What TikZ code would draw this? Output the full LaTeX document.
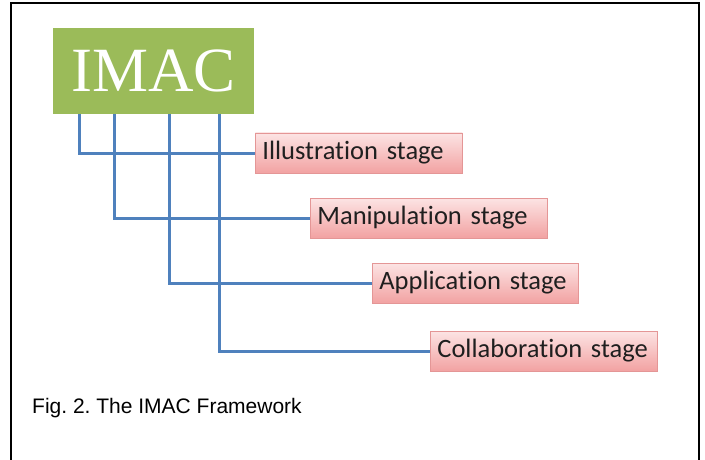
\documentclass[tikz,border=0pt]{standalone}
\usepackage{fontspec}
\setmainfont{Liberation Serif}
\newfontfamily\stagefont[Ligatures=NoCommon]{Carlito}
\newfontfamily\capfont{Liberation Sans}
\definecolor{imacgreen}{RGB}{155,187,89}
\definecolor{linkblue}{RGB}{79,129,189}
\definecolor{pinktop}{RGB}{252,228,228}
\definecolor{pinkbot}{RGB}{242,162,162}
\definecolor{pinkedge}{RGB}{228,150,150}
\frenchspacing
\begin{document}
\begin{tikzpicture}[x=1pt,y=-1pt,
  stagebox/.style={draw=pinkedge, line width=0.8pt, top color=pinktop, bottom color=pinkbot,
    minimum height=40pt, inner xsep=7pt, inner ysep=0pt, anchor=west, align=left,
    font=\stagefont\fontsize{26.5}{28}\selectfont, text=black!88},
  link/.style={draw=linkblue, line width=3pt},
  frame/.style={draw=black, line width=2.6pt}]
\useasboundingbox (0,0) rectangle (705,460);
% outer frame (open at the bottom)
\draw[frame] (11,462) -- (11,3) -- (699,3) -- (699,462);
% title block
\node[fill=imacgreen, minimum width=201pt, minimum height=86pt, inner sep=0pt,
      text=white, font=\fontsize{63}{63}\selectfont] (imac) at (153.5,71) {IMAC};
% stage boxes
\node[stagebox, text width=193pt] (ill) at (255,153) {Illustration stage};
\node[stagebox, text width=223pt] (man) at (310,218) {Manipulation stage};
\node[stagebox, text width=192pt] (app) at (372,283) {Application stage};
\node[stagebox, text width=213pt] (col) at (430,351) {Collaboration stage};
% connectors from the title block down to each stage
\draw[link] ([xshift=167pt]imac.south west) |- (col.west);
\draw[link] ([xshift=117pt]imac.south west) |- (app.west);
\draw[link] ([xshift=62pt]imac.south west) |- (man.west);
\draw[link] ([xshift=27pt]imac.south west) |- (ill.west);
% caption
\node[anchor=west, font=\capfont\fontsize{21}{22}\selectfont, inner sep=0pt] (cap) at (32,408) {Fig. 2. The IMAC Framework};
\end{tikzpicture}
\end{document}
